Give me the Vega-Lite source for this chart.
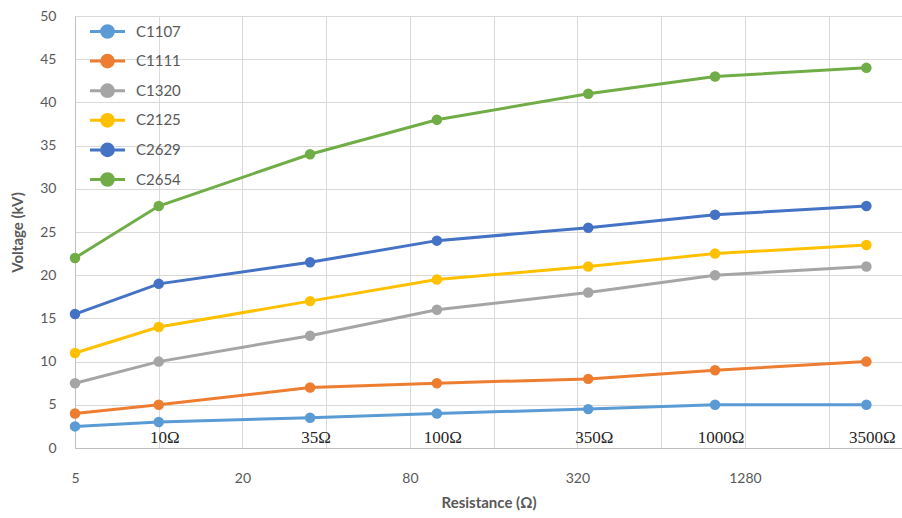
{
  "$schema": "https://vega.github.io/schema/vega-lite/v6.json",
  "width": 827,
  "height": 432,
  "autosize": {"type": "none"},
  "padding": {"left": 75, "top": 16, "right": 0, "bottom": 70},
  "background": "white",
  "config": {
    "view": {"stroke": null},
    "font": "Lato",
    "axis": {
      "gridColor": "#D9D9D9",
      "gridWidth": 1,
      "domainColor": "#BFBFBF",
      "ticks": false,
      "labelColor": "#595959",
      "labelFontSize": 14,
      "labelFlush": false,
      "titleColor": "#595959",
      "titleFontSize": 15,
      "titleFontWeight": "bold"
    }
  },
  "datasets": {
    "main": [
      {"resistance": 5, "series": "C1107", "voltage": 2.5},
      {"resistance": 10, "series": "C1107", "voltage": 3},
      {"resistance": 35, "series": "C1107", "voltage": 3.5},
      {"resistance": 100, "series": "C1107", "voltage": 4},
      {"resistance": 350, "series": "C1107", "voltage": 4.5},
      {"resistance": 1000, "series": "C1107", "voltage": 5},
      {"resistance": 3500, "series": "C1107", "voltage": 5},
      {"resistance": 5, "series": "C1111", "voltage": 4},
      {"resistance": 10, "series": "C1111", "voltage": 5},
      {"resistance": 35, "series": "C1111", "voltage": 7},
      {"resistance": 100, "series": "C1111", "voltage": 7.5},
      {"resistance": 350, "series": "C1111", "voltage": 8},
      {"resistance": 1000, "series": "C1111", "voltage": 9},
      {"resistance": 3500, "series": "C1111", "voltage": 10},
      {"resistance": 5, "series": "C1320", "voltage": 7.5},
      {"resistance": 10, "series": "C1320", "voltage": 10},
      {"resistance": 35, "series": "C1320", "voltage": 13},
      {"resistance": 100, "series": "C1320", "voltage": 16},
      {"resistance": 350, "series": "C1320", "voltage": 18},
      {"resistance": 1000, "series": "C1320", "voltage": 20},
      {"resistance": 3500, "series": "C1320", "voltage": 21},
      {"resistance": 5, "series": "C2125", "voltage": 11},
      {"resistance": 10, "series": "C2125", "voltage": 14},
      {"resistance": 35, "series": "C2125", "voltage": 17},
      {"resistance": 100, "series": "C2125", "voltage": 19.5},
      {"resistance": 350, "series": "C2125", "voltage": 21},
      {"resistance": 1000, "series": "C2125", "voltage": 22.5},
      {"resistance": 3500, "series": "C2125", "voltage": 23.5},
      {"resistance": 5, "series": "C2629", "voltage": 15.5},
      {"resistance": 10, "series": "C2629", "voltage": 19},
      {"resistance": 35, "series": "C2629", "voltage": 21.5},
      {"resistance": 100, "series": "C2629", "voltage": 24},
      {"resistance": 350, "series": "C2629", "voltage": 25.5},
      {"resistance": 1000, "series": "C2629", "voltage": 27},
      {"resistance": 3500, "series": "C2629", "voltage": 28},
      {"resistance": 5, "series": "C2654", "voltage": 22},
      {"resistance": 10, "series": "C2654", "voltage": 28},
      {"resistance": 35, "series": "C2654", "voltage": 34},
      {"resistance": 100, "series": "C2654", "voltage": 38},
      {"resistance": 350, "series": "C2654", "voltage": 41},
      {"resistance": 1000, "series": "C2654", "voltage": 43},
      {"resistance": 3500, "series": "C2654", "voltage": 44}
    ],
    "labels": [
      {"resistance": 10, "label": "10Ω"},
      {"resistance": 35, "label": "35Ω"},
      {"resistance": 100, "label": "100Ω"},
      {"resistance": 350, "label": "350Ω"},
      {"resistance": 1000, "label": "1000Ω"},
      {"resistance": 3500, "label": "3500Ω"}
    ]
  },
  "layer": [
    {
      "data": {"name": "main"},
      "mark": {"type": "line", "strokeWidth": 3, "point": {"size": 110, "filled": true, "opacity": 1}},
      "encoding": {
        "x": {
          "field": "resistance",
          "type": "quantitative",
          "scale": {"type": "log", "base": 2, "domain": [5, 4700], "nice": false},
          "axis": {
            "title": "Resistance (Ω)",
            "values": [5, 10, 20, 40, 80, 160, 320, 640, 1280, 2560],
            "format": "d",
            "labelExpr": "indexof([5, 20, 80, 320, 1280], datum.value) >= 0 ? datum.label : ''",
            "labelPadding": 23,
            "titlePadding": 10
          }
        },
        "y": {
          "field": "voltage",
          "type": "quantitative",
          "scale": {"domain": [0, 50], "nice": false},
          "axis": {
            "title": "Voltage (kV)",
            "values": [0, 5, 10, 15, 20, 25, 30, 35, 40, 45, 50],
            "labelPadding": 19,
            "titlePadding": 14
          }
        },
        "color": {
          "field": "series",
          "type": "nominal",
          "scale": {
            "domain": ["C1107", "C1111", "C1320", "C2125", "C2629", "C2654"],
            "range": ["#5B9BD5", "#ED7D31", "#A5A5A5", "#FFC000", "#4472C4", "#70AD47"]
          },
          "legend": {
            "orient": "none",
            "legendX": 19,
            "legendY": 2,
            "title": null,
            "symbolType": "M-1.5,0L1.5,0M-0.5,0A0.5,0.5 0 1,1 0.5,0A0.5,0.5 0 1,1 -0.5,0",
            "symbolSize": 544,
            "symbolStrokeWidth": 3,
            "labelFontSize": 15,
            "labelColor": "#595959",
            "labelOffset": 15,
            "rowPadding": 3.6,
            "encode": {
              "symbols": {
                "update": {
                  "fill": {"scale": "color", "field": "value"},
                  "stroke": {"scale": "color", "field": "value"},
                  "opacity": {"value": 1}
                }
              }
            }
          }
        }
      }
    },
    {
      "data": {"name": "labels"},
      "mark": {"type": "text", "font": "Liberation Serif", "fontSize": 17, "color": "#262626", "dx": 6, "baseline": "middle"},
      "encoding": {
        "x": {"field": "resistance", "type": "quantitative"},
        "y": {"datum": 1.2},
        "text": {"field": "label"}
      }
    }
  ]
}
